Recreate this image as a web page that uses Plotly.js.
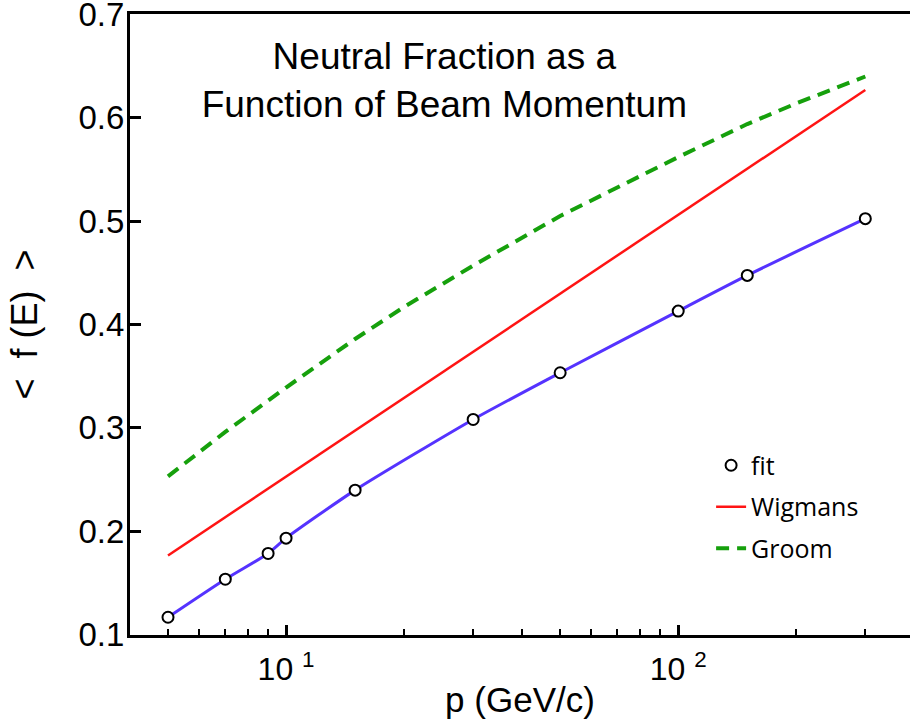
<!DOCTYPE html>
<html>
<head>
<meta charset="utf-8">
<script src="https://cdn.plot.ly/plotly-3.0.1.min.js"></script>
<style>
html, body { margin: 0; padding: 0; overflow: hidden; background: #fff; }
#chart { width: 910px; height: 727px; }
</style>
</head>
<body>
<div id="chart"></div>
<script>
// Data
const fitP = [5, 7, 9, 10, 15, 30, 50, 100, 150, 300];
const fitF = [0.1167, 0.1535, 0.1784, 0.1932, 0.2397, 0.3081, 0.3533, 0.4130, 0.4475, 0.5024];

const wigP = [5, 10, 20, 50, 100, 200, 300];
const wigF = [0.1765, 0.2528, 0.3290, 0.4298, 0.5060, 0.5820, 0.6270];

const groomP = [5, 7, 10, 15, 20, 30, 50, 70, 100, 150, 200, 300];
const groomF = [0.253, 0.296, 0.339, 0.386, 0.417, 0.457, 0.505, 0.533, 0.562, 0.594, 0.614, 0.640];

const xTickVals = [10, 100];
const xTickText = ['10 <sup>1</sup>', '10 <sup>2</sup>'];
const xMinorVals = [5, 6, 7, 8, 9, 20, 30, 40, 50, 60, 70, 80, 90, 200, 300];
const yTickVals = [0.1, 0.2, 0.3, 0.4, 0.5, 0.6, 0.7];
const yTickText = ['0.1', '0.2', '0.3', '0.4', '0.5', '0.6', '0.7'];

const helv = 'Liberation Sans, Arial, Helvetica, sans-serif';
const NB = '\u00A0';

const traces = [
  {
    x: fitP, y: fitF, mode: 'lines', type: 'scatter',
    line: { color: '#5533ff', width: 3, shape: 'spline', smoothing: 0.6 },
    showlegend: false, hoverinfo: 'skip'
  },
  {
    x: fitP, y: fitF, mode: 'markers', type: 'scatter', name: 'fit',
    legendgroup: 'a',
    marker: { symbol: 'circle', size: 11, color: 'white', line: { color: 'black', width: 2 } }
  },
  {
    x: wigP, y: wigF, mode: 'lines', type: 'scatter', name: 'Wigmans',
    legendgroup: 'b',
    line: { color: 'rgb(255,20,20)', width: 2.5 }
  },
  {
    x: groomP, y: groomF, mode: 'lines', type: 'scatter', name: 'Groom',
    legendgroup: 'c',
    line: { color: 'rgb(22,160,12)', width: 4, dash: '13px,8px' }
  }
];

const layout = {
  width: 910, height: 727, autosize: false,
  paper_bgcolor: 'white', plot_bgcolor: 'white',
  margin: { l: 130, r: 0, t: 14, b: 92, pad: 0 },
  font: { family: helv, color: 'black' },
  title: {
    text: 'Neutral Fraction as a<br>Function of Beam Momentum',
    font: { family: helv, size: 37, color: 'black' },
    xref: 'paper', x: 0.403, xanchor: 'center',
    yref: 'paper', y: 0.912, yanchor: 'top'
  },
  xaxis: {
    type: 'log',
    range: [Math.log10(4), Math.log10(390)],
    showgrid: false, zeroline: false,
    showline: true, linecolor: 'black', linewidth: 3, mirror: true,
    ticks: 'inside', ticklen: 10, tickwidth: 3, tickcolor: 'black',
    tickmode: 'array', tickvals: xTickVals, ticktext: xTickText,
    tickfont: { family: helv, size: 32, color: 'black' },
    ticklabelstandoff: 4,
    minor: { tickmode: 'array', tickvals: xMinorVals, ticks: 'inside', ticklen: 6, tickwidth: 2, tickcolor: 'black', showgrid: false },
    title: { text: 'p (GeV/c)', font: { family: helv, size: 35, color: 'black' }, standoff: 2 }
  },
  yaxis: {
    range: [0.0995, 0.7005],
    showgrid: false, zeroline: false,
    showline: true, linecolor: 'black', linewidth: 3, mirror: false,
    ticks: 'inside', ticklen: 11, tickwidth: 3, tickcolor: 'black',
    tickmode: 'array', tickvals: yTickVals, ticktext: yTickText,
    tickfont: { family: helv, size: 33, color: 'black' },
    ticklabeloverflow: 'allow',
    ticklabelstandoff: -4,
    title: { text: '&lt;' + NB + ' f (E) ' + NB + '&gt;', font: { family: helv, size: 36, color: 'black' }, standoff: 30 }
  },
  legend: {
    x: 0.745, xanchor: 'left', y: 0.31, yanchor: 'top',
    xref: 'paper', yref: 'paper',
    bgcolor: 'rgba(0,0,0,0)', borderwidth: 0,
    font: { family: 'Open Sans, Noto Sans, sans-serif', size: 25, color: 'black' },
    traceorder: 'grouped', tracegroupgap: 6
  },
  showlegend: true
};

Plotly.newPlot('chart', traces, layout, { displayModeBar: false, staticPlot: true });
</script>
</body>
</html>
